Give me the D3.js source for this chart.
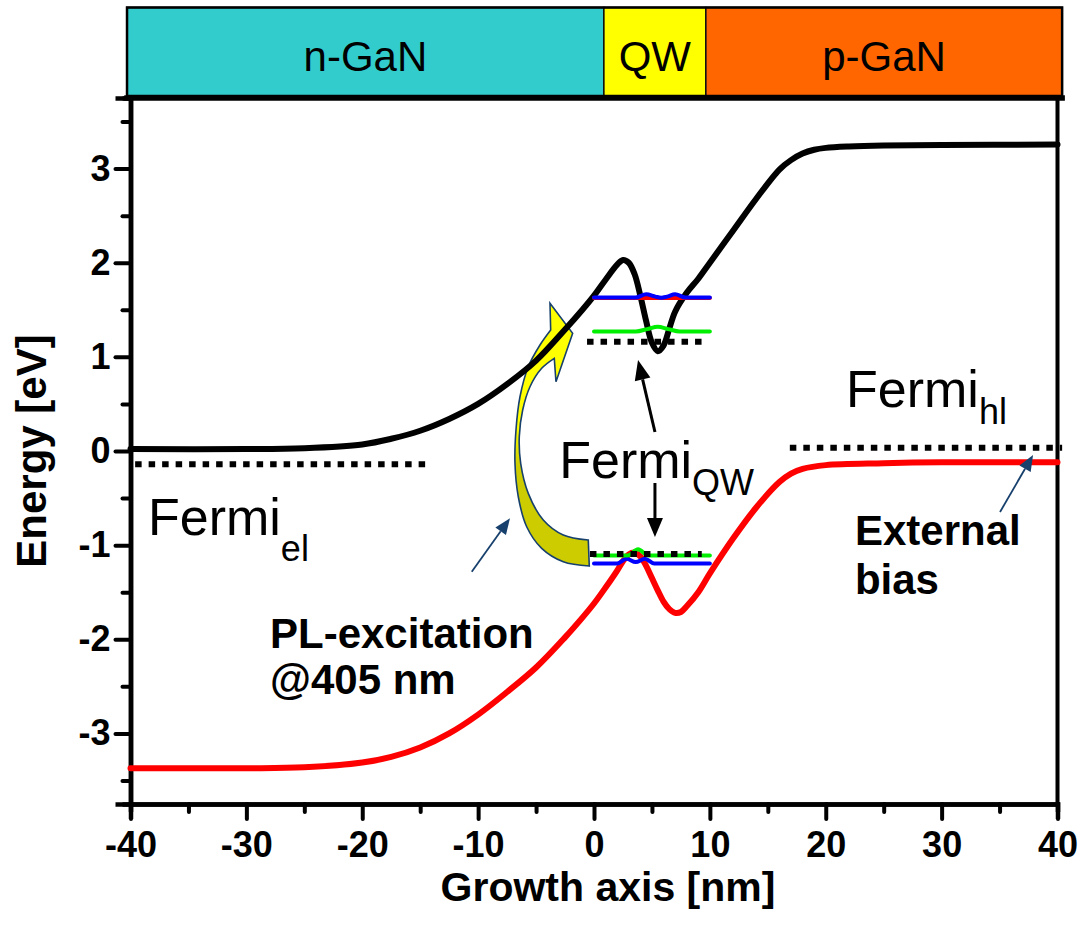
<!DOCTYPE html>
<html>
<head>
<meta charset="utf-8">
<script src="https://cdn.jsdelivr.net/npm/d3@7"></script>
<style>
  html, body { margin: 0; padding: 0; background: #ffffff; }
  svg { display: block; font-family: "Liberation Sans", Arial, sans-serif; }
</style>
</head>
<body>
<svg id="chart" width="1082" height="934"></svg>
<script>
// ---- Band-diagram data: growth axis (nm) and energy (eV) ----
const cbX = [-40, -30, -25, -20, -17.5, -15, -12.5, -10, -7.5, -5, -2.5, -1, 0, 1, 2, 2.5, 3, 3.5, 4, 4.5, 5, 5.5, 6, 6.5, 7, 8, 9, 10, 12, 14, 16, 17, 18, 19, 20, 22, 25, 30, 40];
const cbE = [0.02, 0.02, 0.03, 0.07, 0.13, 0.215, 0.34, 0.5, 0.71, 0.96, 1.29, 1.5, 1.65, 1.82, 1.98, 2.03, 2.0, 1.88, 1.65, 1.38, 1.15, 1.06, 1.12, 1.3, 1.48, 1.68, 1.83, 2.0, 2.34, 2.68, 2.99, 3.09, 3.16, 3.2, 3.22, 3.235, 3.245, 3.25, 3.255];

const vbX = [-40, -30, -25, -20, -17.5, -15, -12.5, -10, -7.5, -5, -2.5, -1, 0, 1, 2, 2.5, 3, 3.5, 4, 4.5, 5, 5.5, 6, 6.5, 7, 7.5, 8, 9, 10, 12, 14, 16, 17, 18, 20, 25, 30, 40];
const vbE = [-3.37, -3.37, -3.36, -3.31, -3.25, -3.15, -3.0, -2.8, -2.56, -2.3, -1.98, -1.77, -1.62, -1.45, -1.27, -1.17, -1.1, -1.08, -1.12, -1.22, -1.35, -1.48, -1.6, -1.68, -1.72, -1.71, -1.65, -1.5, -1.3, -0.93, -0.6, -0.33, -0.24, -0.19, -0.15, -0.13, -0.12, -0.12];

// Quantum-well confined levels
const e1BlueX = [0, 3.6, 4.5, 5.3, 5.8, 6.3, 7.0, 7.9, 10];
const e1BlueE = [1.63, 1.63, 1.665, 1.64, 1.628, 1.64, 1.665, 1.63, 1.63];
const e1RedX = [0, 10];
const e1RedE = [1.625, 1.625];
const e1GreenX = [0, 3.6, 4.6, 5.5, 6.4, 7.4, 10];
const e1GreenE = [1.27, 1.27, 1.295, 1.32, 1.295, 1.27, 1.27];
const h1GreenX = [0, 2.9, 3.8, 4.7, 10];
const h1GreenE = [-1.11, -1.11, -1.045, -1.11, -1.11];
const h1BlueX = [0, 2.0, 2.8, 3.6, 4.4, 5.2, 10];
const h1BlueE = [-1.195, -1.195, -1.145, -1.18, -1.145, -1.195, -1.195];

// Quasi-Fermi levels (dotted): [xStart, xEnd, energy]
const fermiEl = [-39.6, -14.1, -0.14];
const fermiHl = [16.9, 40.4, 0.035];
const fermiQWc = [-0.6, 9.4, 1.161];
const fermiQWv = [-0.35, 9.3, -1.094];

// Layer stack along the growth axis
const layerNames = ["n-GaN", "QW", "p-GaN"];
const layerEdges = [-40.3, 0.85, 9.65, 40.4];

// Axis ticks
const xTicks = [-40, -30, -20, -10, 0, 10, 20, 30, 40];
const yTicks = [-3, -2, -1, 0, 1, 2, 3];

// ---- Layout ----
const W = 1082, H = 934;
const margin = { top: 98, right: 24.5, bottom: 130, left: 130.5 };
const x = d3.scaleLinear().domain([-40, 40]).range([margin.left, W - margin.right]);
const y = d3.scaleLinear().domain([-3.75, 3.75]).range([H - margin.bottom, margin.top]);

const svg = d3.select("#chart");
const navy = "#17406d";

// Gradient for the excitation arrow
const defs = svg.append("defs");
const grad = defs.append("linearGradient").attr("id", "plGrad")
  .attr("x1", 0).attr("y1", 0).attr("x2", 0).attr("y2", 1);
grad.append("stop").attr("offset", 0).attr("stop-color", "#ffff00");
grad.append("stop").attr("offset", 0.47).attr("stop-color", "#ffff00");
grad.append("stop").attr("offset", 0.62).attr("stop-color", "#cccc00");
grad.append("stop").attr("offset", 1).attr("stop-color", "#cccc00");

// ---- Layer bar across the top ----
const layerColors = ["#33cccc", "#ffff00", "#ff6600"];
const barTop = 7.5, barBottom = 96;
const bar = svg.append("g");
layerNames.forEach((name, i) => {
  bar.append("rect")
    .attr("x", x(layerEdges[i])).attr("y", barTop)
    .attr("width", x(layerEdges[i + 1]) - x(layerEdges[i]))
    .attr("height", barBottom - barTop)
    .attr("fill", layerColors[i]).attr("stroke", "#111").attr("stroke-width", 1.6);
  bar.append("text")
    .attr("x", (x(layerEdges[i]) + x(layerEdges[i + 1])) / 2)
    .attr("y", 71)
    .attr("text-anchor", "middle")
    .attr("font-size", 42)
    .attr("fill", "#000")
    .text(name);
});
bar.append("rect")
  .attr("x", x(layerEdges[0])).attr("y", barTop)
  .attr("width", x(layerEdges[3]) - x(layerEdges[0]))
  .attr("height", barBottom - barTop)
  .attr("fill", "none").attr("stroke", "#000").attr("stroke-width", 2.5);

// ---- Frame ----
const frame = svg.append("g").attr("stroke", "#000").attr("stroke-linecap", "square");
frame.append("line").attr("x1", x(layerEdges[0])).attr("x2", x(layerEdges[3]))
  .attr("y1", y(3.75)).attr("y2", y(3.75)).attr("stroke-width", 5.5);
frame.append("line").attr("x1", x(40)).attr("x2", x(40))
  .attr("y1", y(3.75)).attr("y2", y(-3.75)).attr("stroke-width", 4);

// ---- Axes ----
function styleAxis(g) {
  g.select(".domain").attr("stroke", "#000").attr("stroke-width", 4.5);
  g.selectAll(".tick line").attr("stroke", "#000").attr("stroke-width", 4).attr("stroke-linecap", "round");
  g.selectAll(".tick text").attr("fill", "#000").attr("font-size", 36).attr("font-weight", "bold")
    .attr("font-family", "\"Liberation Sans\", Arial, sans-serif");
}
const xMinor = d3.range(-35, 40, 10);
const yMinor = d3.range(-3.5, 3.6, 1);
const plainInt = d => String(d);

svg.append("g").attr("transform", `translate(0,${y(-3.75)})`)
  .call(d3.axisBottom(x).tickValues(xMinor).tickSize(8).tickFormat(""))
  .call(styleAxis);
svg.append("g").attr("transform", `translate(${x(-40)},0)`)
  .call(d3.axisLeft(y).tickValues(yMinor).tickSize(8).tickFormat(""))
  .call(styleAxis);
svg.append("g").attr("transform", `translate(0,${y(-3.75)})`)
  .call(d3.axisBottom(x).tickValues(xTicks).tickSize(15).tickPadding(12).tickFormat(plainInt))
  .call(styleAxis);
svg.append("g").attr("transform", `translate(${x(-40)},0)`)
  .call(d3.axisLeft(y).tickValues(yTicks).tickSize(15).tickPadding(5).tickFormat(plainInt))
  .call(styleAxis);

// Axis titles
svg.append("text")
  .attr("x", 608).attr("y", 901)
  .attr("text-anchor", "middle").attr("font-size", 41).attr("font-weight", "bold")
  .text("Growth axis [nm]");
svg.append("text")
  .attr("transform", `translate(46,${y(0)}) rotate(-90)`)
  .attr("text-anchor", "middle").attr("font-size", 42).attr("font-weight", "bold")
  .text("Energy [eV]");

// ---- Excitation arrow (curved block arrow from valence to conduction band) ----
const tip = [x(-1.84), y(1.25)];
const headPts = { tip: [0, 0], lowerBarb: [-16.7, 48.4], upperBarb: [-22.7, -30] };
const innerEdge = [[-18.4, 25], [-31, 35], [-42.7, 53.4], [-50, 76.7], [-53.4, 103.4], [-52, 130], [-44.4, 160], [-29.4, 186.7], [-9.4, 201.7], [15.6, 206.7]];
const outerEdge = [[16.6, 232.7], [-9.4, 228.4], [-31, 215], [-46, 193.4], [-54.4, 163.4], [-57.7, 130], [-56.7, 96.7], [-52.7, 63.4], [-44.4, 33.4], [-32.7, 11.7], [-22, -3.3]];
const smooth = d3.line().curve(d3.curveCatmullRom.alpha(0.5));
const shift = p => [tip[0] + p[0], tip[1] + p[1]];
const arrowPath =
  `M${shift(headPts.tip)}L${shift(headPts.lowerBarb)}` +
  smooth(innerEdge.map(shift)).replace(/^M/, "L") +
  smooth(outerEdge.map(shift)).replace(/^M/, "L") +
  `L${shift(headPts.upperBarb)}Z`;
svg.append("path").attr("d", arrowPath)
  .attr("fill", "url(#plGrad)").attr("stroke", navy).attr("stroke-width", 1.6)
  .attr("stroke-linejoin", "miter");

// ---- Band edges ----
const zip = (xs, es) => xs.map((v, i) => [v, es[i]]);
const bandLine = d3.line().x(d => x(d[0])).y(d => y(d[1])).curve(d3.curveCatmullRom.alpha(0.5));
const levelLine = d3.line().x(d => x(d[0])).y(d => y(d[1])).curve(d3.curveMonotoneX);

svg.append("path").attr("d", bandLine(zip(vbX, vbE)))
  .attr("fill", "none").attr("stroke", "#ff0000").attr("stroke-width", 6).attr("stroke-linecap", "round");
svg.append("path").attr("d", bandLine(zip(cbX, cbE)))
  .attr("fill", "none").attr("stroke", "#000").attr("stroke-width", 6).attr("stroke-linecap", "round");

// ---- Confined levels ----
const levels = [
  [e1RedX, e1RedE, "#ff0000"],
  [e1BlueX, e1BlueE, "#0000ff"],
  [e1GreenX, e1GreenE, "#00ee00"],
  [h1BlueX, h1BlueE, "#0000ff"],
  [h1GreenX, h1GreenE, "#00ee00"]
];
levels.forEach(([xs, es, c]) => {
  svg.append("path").attr("d", levelLine(zip(xs, es)))
    .attr("fill", "none").attr("stroke", c).attr("stroke-width", 4).attr("stroke-linecap", "round");
});

// ---- Quasi-Fermi levels ----
[fermiEl, fermiHl, fermiQWc, fermiQWv].forEach(([x0, x1, e]) => {
  svg.append("line")
    .attr("x1", x(x0)).attr("x2", x(x1)).attr("y1", y(e)).attr("y2", y(e))
    .attr("stroke", "#000").attr("stroke-width", 6).attr("stroke-dasharray", "6.5,7");
});

// ---- Pointer arrows ----
function arrow(from, to, color, width, headLen, headW) {
  const x1 = x(from[0]), y1 = y(from[1]), x2 = x(to[0]), y2 = y(to[1]);
  const a = Math.atan2(y2 - y1, x2 - x1);
  const bx = x2 - headLen * Math.cos(a), by = y2 - headLen * Math.sin(a);
  const nx = -Math.sin(a) * headW / 2, ny = Math.cos(a) * headW / 2;
  svg.append("line").attr("x1", x1).attr("y1", y1).attr("x2", bx).attr("y2", by)
    .attr("stroke", color).attr("stroke-width", width);
  svg.append("path")
    .attr("d", `M${x2},${y2}L${bx + nx},${by + ny}L${bx - nx},${by - ny}Z`)
    .attr("fill", color);
}
const qwUpArrow = [[5.26, 0.202], [3.80, 0.967]];
const qwDownArrow = [[5.26, -0.34], [5.26, -0.914]];
const plArrow = [[-10.55, -1.282], [-7.25, -0.715]];
const biasArrow = [[35.04, -0.648], [37.89, -0.042]];
arrow(qwUpArrow[0], qwUpArrow[1], "#000", 3, 20, 16);
arrow(qwDownArrow[0], qwDownArrow[1], "#000", 3, 19, 16);
arrow(plArrow[0], plArrow[1], navy, 1.8, 16, 13);
arrow(biasArrow[0], biasArrow[1], navy, 1.8, 16, 13);

// ---- Annotations ----
const fermiLabels = [
  { pos: [-38.49, -0.892], sub: "el", dy: 26 },
  { pos: [-3.0, -0.287], sub: "QW", dy: 17 },
  { pos: [21.75, 0.467], sub: "hl", dy: 17 }
];
fermiLabels.forEach(l => {
  const t = svg.append("text").attr("x", x(l.pos[0])).attr("y", y(l.pos[1]))
    .attr("font-size", 52).attr("fill", "#000");
  t.append("tspan").text("Fermi");
  t.append("tspan").attr("dy", l.dy).attr("font-size", 36).text(l.sub);
});

const boldNotes = [
  { pos: [-27.96, -2.093], text: "PL-excitation" },
  { pos: [-27.96, -2.581], text: "@405 nm" },
  { pos: [22.52, -0.999], text: "External" },
  { pos: [22.52, -1.519], text: "bias" }
];
boldNotes.forEach(n => {
  svg.append("text").attr("x", x(n.pos[0])).attr("y", y(n.pos[1]))
    .attr("font-size", 42).attr("font-weight", "bold").attr("fill", "#000")
    .text(n.text);
});
</script>
</body>
</html>
